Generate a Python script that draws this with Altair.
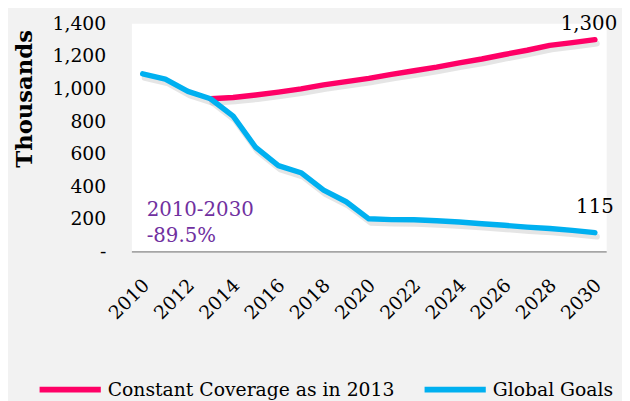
import altair as alt
import pandas as pd

years = list(range(2010, 2031))
global_goals = [1090, 1058, 982, 937, 830, 638, 527, 483, 376, 305, 200,
                195, 194, 188, 180, 170, 160, 149, 141, 129, 115]

constant_years = list(range(2013, 2031))
constant_coverage = [937, 945, 960, 978, 998, 1022, 1042, 1062, 1087, 1109,
                     1131, 1157, 1181, 1209, 1235, 1265, 1282, 1300]

series_names = ["Constant Coverage as in 2013", "Global Goals"]
series_colors = ["#FF0066", "#00B0F0"]

end_labels = ["1,300", "115"]
note_lines = ["2010-2030", "-89.5%"]
note_values = [218, 55]

rows = []
for y, v in zip(constant_years, constant_coverage):
    rows.append({"series": series_names[0], "year": y, "value": v})
for y, v in zip(years, global_goals):
    rows.append({"series": series_names[1], "year": y, "value": v})
df = pd.DataFrame(rows)

end_top = pd.DataFrame({"year": [constant_years[-1]], "value": [constant_coverage[-1]],
                        "label": [end_labels[0]]})
end_bot = pd.DataFrame({"year": [years[-1]], "value": [global_goals[-1]],
                        "label": [end_labels[1]]})
note_df = pd.DataFrame({"year": [2010, 2010], "value": note_values, "label": note_lines})

FONT = "DejaVu Serif"

x_scale = alt.Scale(domain=[2009.5, 2030.5], nice=False, zero=False)
y_scale = alt.Scale(domain=[0, 1400], nice=False)

x_enc = alt.X("year:Q", scale=x_scale,
              axis=alt.Axis(values=list(range(2010, 2031, 2)), format="d", title=None,
                            labelAngle=-45, labelAlign="right", labelBaseline="middle",
                            labelPadding=31, labelOffset=3, tickSize=0, ticks=False,
                            grid=False,
                            labelOverlap=False, labelBound=False, labelFlush=False,
                            domainColor="#a6a6a6", domainWidth=2,
                            labelFont=FONT, labelFontSize=19, labelColor="#000000"))
y_enc = alt.Y("value:Q", scale=y_scale,
              axis=alt.Axis(values=list(range(0, 1401, 200)), title="Thousands",
                            labelExpr="datum.value == 0 ? '-\u00a0\u00a0\u00a0' : format(datum.value, ',')",
                            tickSize=0, ticks=False, domain=False, grid=False,
                            labelOverlap=False, labelBound=False, labelFlush=False,
                            labelPadding=26, labelFont=FONT, labelFontSize=19,
                            labelColor="#000000",
                            titleFont=FONT, titleFontSize=23, titleFontWeight="bold",
                            titleColor="#000000", titleAngle=-90, titleX=-101, titleY=76,
                            titleAlign="center", titleBaseline="alphabetic"))

base = alt.Chart(df)

shadow = base.mark_line(color="#7f7f7f", opacity=0.2, strokeWidth=6, xOffset=2,
                        yOffset=4, strokeCap="round", strokeJoin="round").encode(
    x=x_enc, y=y_enc, detail="series:N")

lines = base.mark_line(strokeWidth=5.5, strokeCap="round", strokeJoin="round").encode(
    x=x_enc, y=y_enc,
    color=alt.Color("series:N",
                    scale=alt.Scale(domain=series_names, range=series_colors),
                    legend=alt.Legend(title=None, orient="none", direction="horizontal",
                                      legendX=-96, legendY=337, symbolType="stroke",
                                      symbolSize=3844, symbolStrokeWidth=6,
                                      labelFont=FONT, labelFontSize=19,
                                      labelColor="#000000", labelOffset=4,
                                      columnPadding=18, labelLimit=400, padding=0)))

ends_top = alt.Chart(end_top).mark_text(font=FONT, fontSize=20, color="#000000",
                                        align="center", baseline="alphabetic",
                                        dx=-6, dy=-10).encode(
    x=x_enc, y=y_enc, text="label:N")
ends_bot = alt.Chart(end_bot).mark_text(font=FONT, fontSize=20, color="#000000",
                                        align="center", baseline="alphabetic",
                                        dy=-20).encode(
    x=x_enc, y=y_enc, text="label:N")

notes = alt.Chart(note_df).mark_text(font=FONT, fontSize=20, color="#7030A0",
                                     align="left", baseline="alphabetic", dx=4).encode(
    x=x_enc, y=y_enc, text="label:N")

chart = alt.layer(shadow, lines, ends_top, ends_bot, notes).properties(
    width=481, height=231,
    autosize=alt.AutoSizeParams(type="none"),
    padding={"left": 125, "top": 13, "right": 16, "bottom": 149},
    background="#f2f2f2",
).configure_view(fill="white", stroke="transparent").configure_axis(
    labelOverlap=False
).configure_axisY(labelOverlap=False).configure_legend(labelFont=FONT)

chart.save("out.html", embed_options={"renderer": "svg", "actions": False})
